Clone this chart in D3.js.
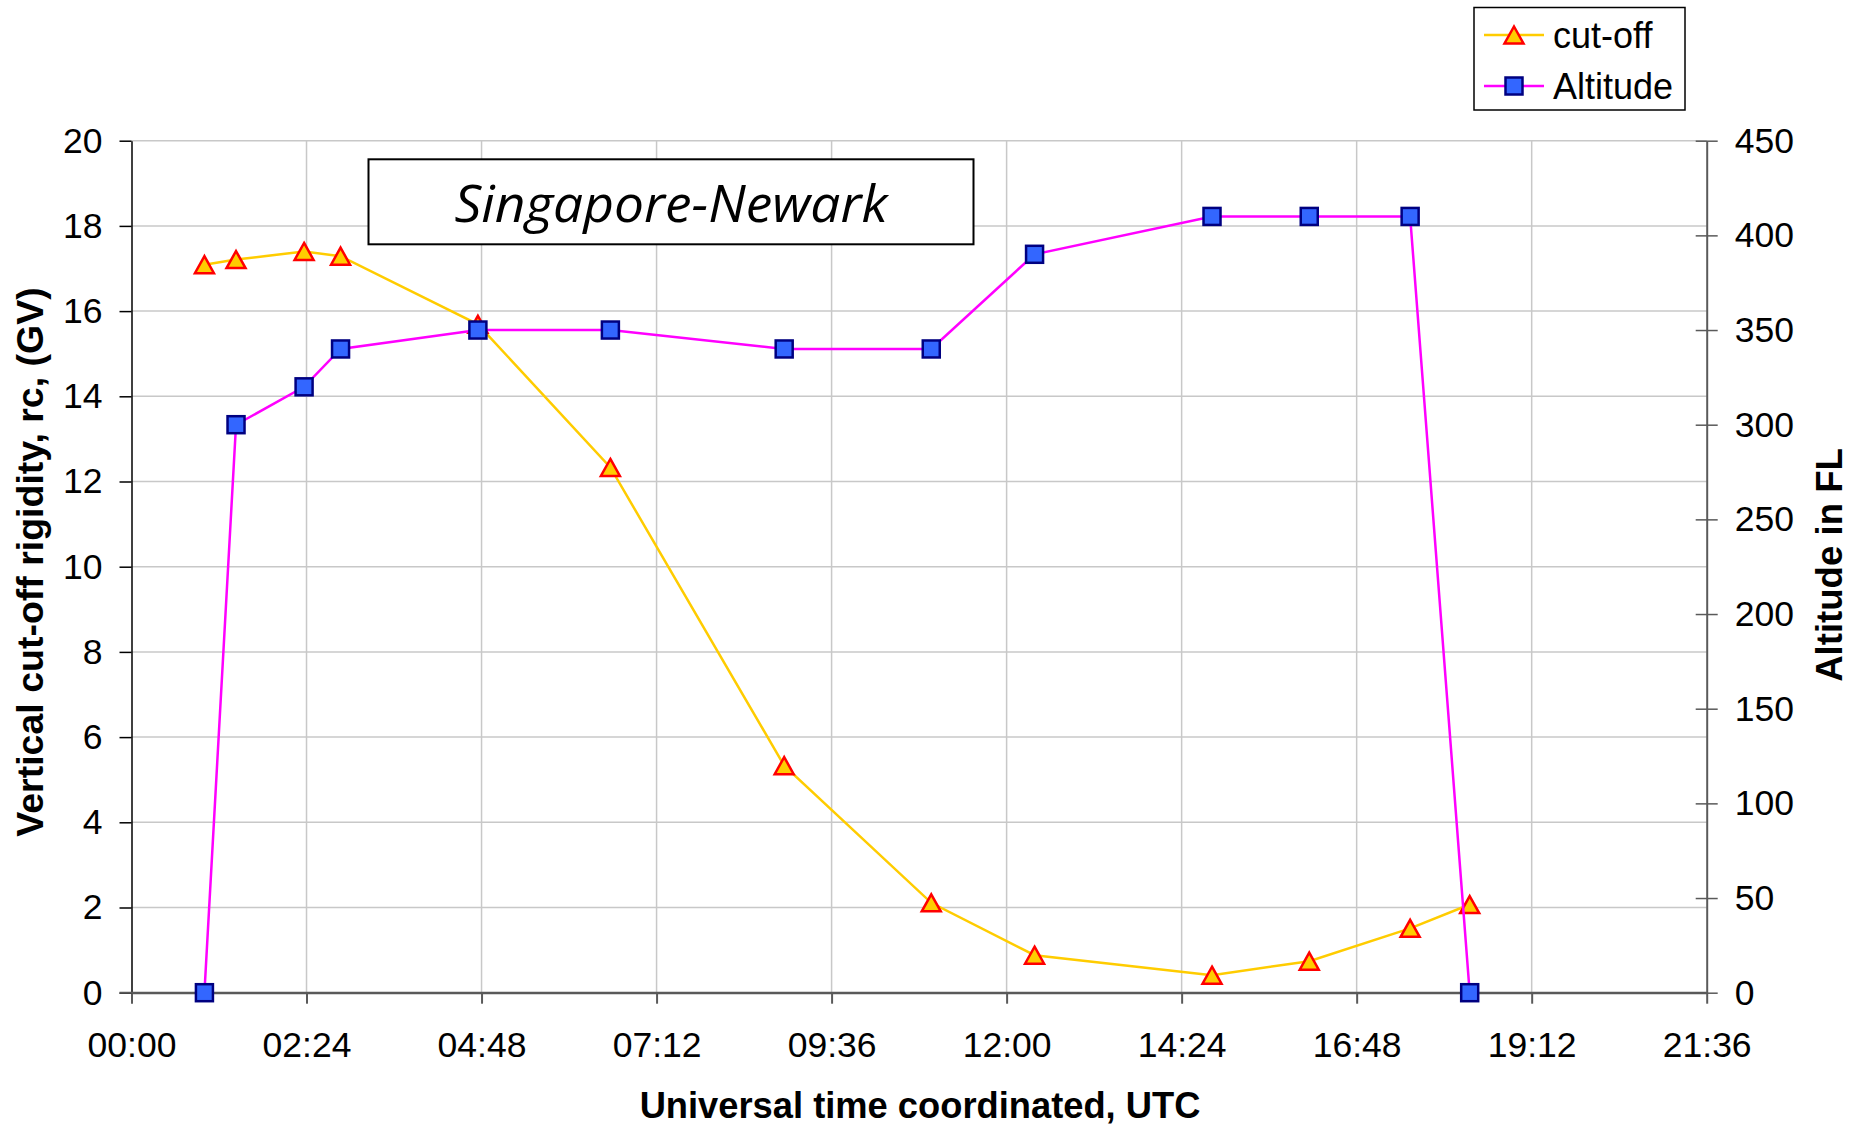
<!DOCTYPE html>
<html>
<head>
<meta charset="utf-8">
<script src="https://cdn.jsdelivr.net/npm/d3@7"></script>
<style>
  html, body { margin: 0; padding: 0; background: #fff; }
  svg { display: block; }
</style>
</head>
<body>
<svg id="chart" width="1863" height="1126"></svg>
<script>
// ---------------- DATA ----------------
const times = ["01:00","01:26","02:22","02:52","04:45","06:34","08:57","10:58","12:23","14:49","16:09","17:32","18:21"];
const cutoff = [17.09, 17.21, 17.40, 17.29, 15.69, 12.33, 5.33, 2.11, 0.88, 0.41, 0.74, 1.51, 2.07];
const altitude = [0, 300, 320, 340, 350, 350, 340, 340, 390, 410, 410, 410, 0];
const xTickLabels = ["00:00","02:24","04:48","07:12","09:36","12:00","14:24","16:48","19:12","21:36"];
const yLeftTicks = [0, 2, 4, 6, 8, 10, 12, 14, 16, 18, 20];
const yRightTicks = [0, 50, 100, 150, 200, 250, 300, 350, 400, 450];
const seriesNames = ["cut-off", "Altitude"];
const chartTitle = "Singapore-Newark";
const xTitle = "Universal time coordinated, UTC";
const yLeftTitle = "Vertical cut-off rigidity, rc, (GV)";
const yRightTitle = "Altitude in FL";

// ---------------- HELPERS ----------------
const toHours = s => { const [h, m] = s.split(":").map(Number); return h + m / 60; };

const svg = d3.select("#chart");
const L = 131.5, R = 1706.7, T = 140.7, B = 992.7;

const x = d3.scaleLinear().domain([0, toHours("21:36")]).range([L, R]);
const yL = d3.scaleLinear().domain([0, 20]).range([B, T]);
const yR = d3.scaleLinear().domain([0, 450]).range([B, T]);

const font = "'Liberation Sans', Arial, sans-serif";
const gridColor = "#c8c8c8";
const axisGrey = "#5a5a5a";

// gridlines
const grid = svg.append("g");
grid.selectAll("line.h").data(yLeftTicks.filter(d => d > 0)).join("line")
  .attr("x1", L).attr("x2", R)
  .attr("y1", d => yL(d)).attr("y2", d => yL(d))
  .attr("stroke", gridColor).attr("stroke-width", 1.5);
grid.selectAll("line.v").data(xTickLabels.map(toHours).filter(d => d > 0 && d < 21.6)).join("line")
  .attr("x1", d => x(d)).attr("x2", d => x(d))
  .attr("y1", T).attr("y2", B)
  .attr("stroke", gridColor).attr("stroke-width", 1.5);

// title box
const tb = svg.append("g");
tb.append("rect").attr("x", 368.5).attr("y", 159.3).attr("width", 605).attr("height", 85)
  .attr("fill", "#fff").attr("stroke", "#000").attr("stroke-width", 2);
tb.append("text").attr("x", 671).attr("y", 221.5).attr("text-anchor", "middle")
  .attr("font-family", "'Open Sans', 'Noto Sans', sans-serif").attr("font-style", "italic")
  .attr("font-size", 52).attr("textLength", 433).attr("lengthAdjust", "spacingAndGlyphs")
  .attr("fill", "#000").text(chartTitle);

// axes
const xAxis = svg.append("g").attr("transform", `translate(0,${B})`)
  .call(d3.axisBottom(x).tickValues(xTickLabels.map(toHours)).tickFormat((d, i) => xTickLabels[i]).tickSizeOuter(0).tickSizeInner(11).tickPadding(28));
xAxis.select(".domain").attr("stroke", axisGrey).attr("stroke-width", 2);
xAxis.selectAll(".tick line").attr("stroke", axisGrey).attr("stroke-width", 2);
xAxis.selectAll(".tick text").attr("font-family", font).attr("font-size", 35.5).attr("fill", "#000");

const yAxisL = svg.append("g").attr("transform", `translate(${L},0)`)
  .call(d3.axisLeft(yL).tickValues(yLeftTicks).tickSizeOuter(0).tickSizeInner(12).tickPadding(17));
yAxisL.select(".domain").attr("stroke", "#000").attr("stroke-width", 1.5);
yAxisL.selectAll(".tick line").attr("stroke", "#000").attr("stroke-width", 1.5);
yAxisL.selectAll(".tick text").attr("font-family", font).attr("font-size", 35.5).attr("fill", "#000");
svg.append("line").attr("x1", L - 12).attr("x2", R).attr("y1", B).attr("y2", B)
  .attr("stroke", axisGrey).attr("stroke-width", 2);

const yAxisR = svg.append("g").attr("transform", `translate(${R},0)`)
  .call(d3.axisRight(yR).tickValues(yRightTicks).tickSizeOuter(0).tickSizeInner(11).tickPadding(17));
yAxisR.select(".domain").attr("stroke", axisGrey).attr("stroke-width", 2);
yAxisR.selectAll(".tick line").attr("stroke", axisGrey).attr("stroke-width", 1.5).attr("x1", -11);
yAxisR.selectAll(".tick text").attr("font-family", font).attr("font-size", 35.5).attr("fill", "#000");

// axis titles
svg.append("text").attr("x", 920).attr("y", 1118).attr("text-anchor", "middle")
  .attr("font-family", font).attr("font-weight", "bold").attr("font-size", 36.3).text(xTitle);
svg.append("text").attr("transform", "translate(43,562) rotate(-90)").attr("text-anchor", "middle")
  .attr("font-family", font).attr("font-weight", "bold").attr("font-size", 37.5).text(yLeftTitle);
svg.append("text").attr("transform", "translate(1841.5,565) rotate(-90)").attr("text-anchor", "middle")
  .attr("font-family", font).attr("font-weight", "bold").attr("font-size", 36.6).text(yRightTitle);

// series
const data = times.map((t, i) => ({ t: toHours(t), c: cutoff[i], a: altitude[i] }));
const triPath = "M0,-8.5L9.5,8.5L-9.5,8.5Z";
const sq = 17;

const lineC = d3.line().x(d => x(d.t)).y(d => yL(d.c));
svg.append("path").datum(data).attr("d", lineC).attr("fill", "none")
  .attr("stroke", "#FFCC00").attr("stroke-width", 2.5);
svg.append("g").selectAll("path").data(data).join("path")
  .attr("d", triPath).attr("transform", d => `translate(${x(d.t)},${yL(d.c)})`)
  .attr("fill", "#FFCC00").attr("stroke", "#FF0000").attr("stroke-width", 2.5).attr("stroke-linejoin", "miter");

const lineA = d3.line().x(d => x(d.t)).y(d => yR(d.a));
svg.append("path").datum(data).attr("d", lineA).attr("fill", "none")
  .attr("stroke", "#FF00FF").attr("stroke-width", 2.5);
svg.append("g").selectAll("rect").data(data).join("rect")
  .attr("x", d => x(d.t) - sq / 2).attr("y", d => yR(d.a) - sq / 2).attr("width", sq).attr("height", sq)
  .attr("fill", "#3366FF").attr("stroke", "#000080").attr("stroke-width", 2.5);

// legend
const lg = svg.append("g");
lg.append("rect").attr("x", 1474).attr("y", 7.5).attr("width", 211).attr("height", 102.5)
  .attr("fill", "#fff").attr("stroke", "#000").attr("stroke-width", 1.5);
const legendRows = [
  { name: seriesNames[0], y: 35, line: "#FFCC00" },
  { name: seriesNames[1], y: 86, line: "#FF00FF" }
];
legendRows.forEach((r, i) => {
  lg.append("line").attr("x1", 1484).attr("x2", 1544).attr("y1", r.y).attr("y2", r.y)
    .attr("stroke", r.line).attr("stroke-width", 2.5);
  if (i === 0) {
    lg.append("path").attr("d", triPath).attr("transform", `translate(1514,${r.y})`)
      .attr("fill", "#FFCC00").attr("stroke", "#FF0000").attr("stroke-width", 2.5);
  } else {
    lg.append("rect").attr("x", 1514 - sq / 2).attr("y", r.y - sq / 2).attr("width", sq).attr("height", sq)
      .attr("fill", "#3366FF").attr("stroke", "#000080").attr("stroke-width", 2.5);
  }
  lg.append("text").attr("x", 1553).attr("y", r.y + 12.5)
    .attr("font-family", font).attr("font-size", 36).attr("fill", "#000").text(r.name);
});
</script>
</body>
</html>
